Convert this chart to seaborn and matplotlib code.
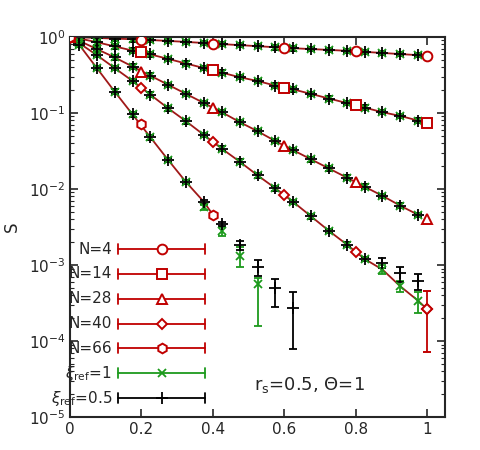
import numpy as np
import pandas as pd
import matplotlib
matplotlib.use("Agg")
import matplotlib.pyplot as plt
import seaborn as sns

# fine grid (xi_ref runs) and coarse grid (N markers)
x_fine = [0, .025, .075, .125, .175, .225, .275, .325, .375, .425, .475, .525,
          .575, .625, .675, .725, .775, .825, .875, .925, .975]
x_coarse = [0, .2, .4, .6, .8, 1.0]

labels = ["N=4", "N=14", "N=28", "N=40", "N=66"]
markers = ["o", "s", "^", "D", "h"]

# log10 S
logS_fine = {
    "N=4": [0, -0.005, -0.014, -0.022, -0.031, -0.041, -0.053, -0.066, -0.080, -0.095, -0.108,
            -0.122, -0.136, -0.149, -0.160, -0.171, -0.183, -0.197, -0.211, -0.226, -0.240],
    "N=14": [0, -0.02, -0.07, -0.125, -0.18, -0.23, -0.29, -0.35, -0.41, -0.47, -0.53, -0.58,
             -0.64, -0.69, -0.75, -0.81, -0.87, -0.93, -0.99, -1.04, -1.10],
    "N=28": [0, -0.05, -0.16, -0.27, -0.39, -0.51, -0.63, -0.75, -0.87, -0.99, -1.12, -1.24,
             -1.37, -1.49, -1.61, -1.73, -1.85, -1.97, -2.09, -2.22, -2.34],
    "N=40": [0, -0.08, -0.24, -0.41, -0.58, -0.76, -0.94, -1.11, -1.29, -1.47, -1.64, -1.82,
             -1.99, -2.17, -2.36, -2.55, -2.73, -2.92, -3.06, -3.28, -3.47],
    "N=66": [0, -0.10, -0.41, -0.72, -1.02, -1.32, -1.62, -1.91, -2.24, -2.55, -2.88, -3.25],
}
logS_black_tail = {
    "N=40": {.875: -2.97, .925: -3.11, .975: -3.21},
    "N=66": {.375: -2.17, .425: -2.46, .475: -2.74, .525: -3.02, .575: -3.30, .625: -3.57},
}
black_err = {
    .475: (-2.80, -2.69), .525: (-3.14, -2.94), .575: (-3.55, -3.19), .625: (-4.11, -3.36),
    .875: (-3.04, -2.91), .925: (-3.22, -3.03), .975: (-3.33, -3.12),
}
green_err = {
    .425: (-2.62, -2.50), .475: (-3.02, -2.76), .525: (-3.80, -3.17),
    .875: (-3.12, -3.00), .925: (-3.36, -3.21), .975: (-3.63, -3.36),
}
logS_coarse = {
    "N=4": [0, -0.036, -0.088, -0.146, -0.19, -0.247],
    "N=14": [0, -0.203, -0.44, -0.667, -0.896, -1.13],
    "N=28": [0, -0.455, -0.93, -1.43, -1.91, -2.40],
    "N=40": [0, -0.675, -1.38, -2.08, -2.83, -3.58],
    "N=66": [0, -1.15, -2.34],
}
n40_last_err = (-4.14, -3.34)
legend_labels = labels + [r"$\xi_{\rm ref}$=1", r"$\xi_{\rm ref}$=0.5"]

RED = "#c00000"
LRED = "#a01818"
GREEN = "#1c9a1c"

sns.set_style("ticks")
plt.rcParams['font.family'] = ['DejaVu Sans']
fig = plt.figure(figsize=(4.8, 4.5), dpi=100)
ax = fig.add_axes([0.146, 0.073, 0.781, 0.845])

rows = []
for lab in labels:
    xs = x_fine[:len(logS_fine[lab])]
    ys = logS_fine[lab]
    if lab == "N=66":
        xs = x_fine[:9] + [0.4]
        ys = logS_fine[lab][:8] + [-2.17, -2.34]
    if lab == "N=40":
        xs = xs + [1.0]
        ys = ys + [logS_coarse[lab][-1]]
    for xv, yv in zip(xs, ys):
        rows.append(dict(x=xv, S=10 ** yv, N=lab))
df = pd.DataFrame(rows)
sns.lineplot(data=df, x="x", y="S", units="N", estimator=None, color=LRED, lw=1.3, ax=ax, legend=False)


def eb(xv, yv, lo, hi, **kw):
    ax.errorbar([xv], [10 ** yv], yerr=[[10 ** yv - 10 ** lo], [10 ** hi - 10 ** yv]], **kw)


for lab in labels:
    xs = x_fine[:len(logS_fine[lab])]
    gy = logS_fine[lab]
    for xv, yv in zip(xs, gy):
        use = (lab == "N=66" and xv in green_err and xv < .6) or (lab == "N=40" and xv in green_err and xv > .8)
        lo, hi = green_err[xv] if use else (yv - 0.03, yv + 0.03)
        eb(xv, yv, lo, hi, fmt="x", color=GREEN, ms=6, mew=1.3, lw=1.3, capsize=3)
    bx, by = list(xs), list(gy)
    tail = logS_black_tail.get(lab, {})
    for k, v in tail.items():
        if k in bx:
            by[bx.index(k)] = v
        else:
            bx.append(k)
            by.append(v)
    for xv, yv in zip(bx, by):
        lo, hi = black_err.get(xv, (yv - 0.03, yv + 0.03)) if xv in tail else (yv - 0.03, yv + 0.03)
        eb(xv, yv, lo, hi, fmt="+", color="black", ms=9, mew=1.3, lw=1.3, capsize=3)

for lab, m in zip(labels, markers):
    ys = logS_coarse[lab]
    xs = x_coarse[:len(ys)]
    ax.plot(xs, [10 ** v for v in ys], ls="none", marker=m, ms=7 if m != "D" else 5.5,
            mfc="white", mec=RED, mew=1.4, zorder=5)
yv = logS_coarse["N=40"][-1]
eb(1.0, yv, *n40_last_err, fmt="D", ms=5.5, mfc="white", mec=RED, mew=1.4, color=RED,
   lw=1.3, capsize=3, zorder=4)

ax.set_yscale("log")
ax.set_xlim(0, 1.05)
ax.set_ylim(1e-5, 1)
ax.set_xticks([0, 0.2, 0.4, 0.6, 0.8, 1])
ax.set_xticklabels(["0", "0.2", "0.4", "0.6", "0.8", "1"])
ax.tick_params(which="both", direction="in", top=True, right=True, labelsize=11)
ax.tick_params(which="major", length=6, width=1.2)
ax.tick_params(which="minor", length=3, width=0.8)
for s in ax.spines.values():
    s.set_linewidth(1.5)
ax.set_xlabel("")
ax.set_ylabel("S", fontsize=12)
ax.yaxis.set_label_coords(-0.13, 0.5)

# manual gnuplot-style legend (axes coordinates)
tr = ax.transAxes
styles = [dict(marker=m, mfc="white", mec=RED, mew=1.4, ms=7 if m != "D" else 5.5, color=RED)
          for m in markers]
styles.append(dict(marker="x", color=GREEN, mec=GREEN, ms=6, mew=1.3))
styles.append(dict(marker="+", color="black", mec="black", ms=9, mew=1.3))
for i, (lab, st) in enumerate(zip(legend_labels, styles)):
    yy = 0.442 - i * 0.0653
    ax.text(0.112, yy, lab, transform=tr, ha="right", va="center", fontsize=11)
    c = st["color"]
    ax.plot([0.128, 0.36], [yy, yy], transform=tr, color=c, lw=1.3, clip_on=False)
    for xe in (0.128, 0.36):
        ax.plot([xe, xe], [yy - 0.013, yy + 0.013], transform=tr, color=c, lw=1.3)
    st2 = {k: v for k, v in st.items() if k != "color"}
    ax.plot([0.244], [yy], transform=tr, ls="none", zorder=6, **st2)

ax.text(0.67, 10 ** -4.58, r"r$_{\rm s}$=0.5, Θ=1", fontsize=13, ha="center", va="center")

fig.savefig("out.png", dpi=100)
